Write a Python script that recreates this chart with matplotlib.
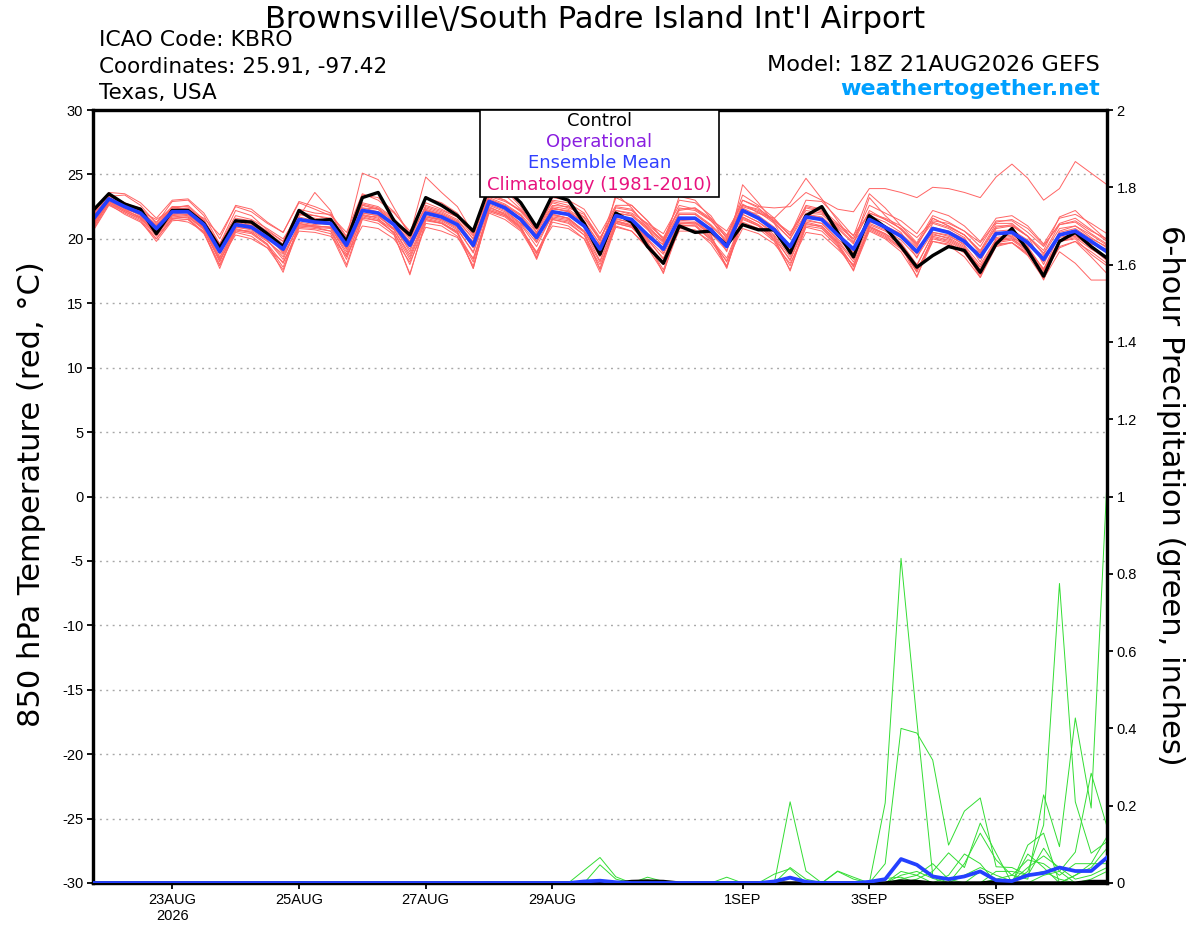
import matplotlib
matplotlib.use("Agg")
import matplotlib.pyplot as plt
import numpy as np
import pandas as pd
from matplotlib.patches import Rectangle

plt.rcParams["font.family"] = ["Liberation Sans", "DejaVu Sans"]
plt.rcParams["axes.unicode_minus"] = False
WIDE = ["DejaVu Sans"]

# 6-hourly forecast steps, 18Z 21AUG2026 run
times = pd.date_range("2026-08-21 18:00", periods=65, freq="6h")

tick_dates = pd.to_datetime(["2026-08-23", "2026-08-25", "2026-08-27", "2026-08-29",
                             "2026-09-01", "2026-09-03", "2026-09-05"])
tick_labels = ["23AUG\n2026", "25AUG", "27AUG", "29AUG", "1SEP", "3SEP", "5SEP"]

# 850 hPa temperature (C)
control_t = [22.2, 23.5, 22.7, 22.3, 20.4, 22.2, 22.2, 21.2, 19.3, 21.4, 21.3, 20.4, 19.4,
             22.2, 21.4, 21.5, 19.8, 23.2, 23.6, 21.4, 20.3, 23.2, 22.6, 21.8, 20.6, 24.0,
             24.0, 22.8, 20.9, 23.4, 23.0, 21.2, 18.8, 22.0, 21.3, 19.4, 18.1, 21.0, 20.5,
             20.6, 19.5, 21.1, 20.7, 20.7, 18.9, 21.8, 22.5, 20.5, 18.6, 21.8, 20.9, 19.4,
             17.8, 18.7, 19.4, 19.1, 17.4, 19.6, 20.8, 19.1, 17.1, 19.8, 20.5, 19.4, 18.5]
mean_t = [21.5, 23.1, 22.5, 22.0, 20.8, 22.1, 22.1, 21.1, 19.0, 21.1, 20.9, 20.1, 19.2,
          21.5, 21.3, 21.2, 19.5, 22.2, 22.0, 21.1, 19.5, 22.0, 21.7, 21.1, 19.5, 22.9,
          22.4, 21.5, 20.1, 22.1, 21.9, 21.0, 19.2, 21.8, 21.5, 20.3, 19.2, 21.6, 21.6,
          20.7, 19.4, 22.2, 21.6, 20.7, 19.4, 21.7, 21.5, 20.3, 19.2, 21.5, 20.9, 20.2,
          19.0, 20.8, 20.5, 19.8, 18.6, 20.4, 20.5, 19.7, 18.4, 20.3, 20.6, 19.8, 19.0]

member_t_01 = [21.0, 23.3, 23.4, 22.6, 21.2, 22.9, 23.0, 21.8, 19.6, 22.2, 21.8, 20.7, 19.8,
               22.3, 22.0, 21.9, 20.1, 25.1, 24.6, 22.4, 20.3, 24.8, 23.6, 22.5, 20.4, 23.8,
               23.4, 22.3, 20.8, 22.9, 22.6, 21.6, 19.9, 22.5, 22.3, 21.0, 19.8, 22.4, 22.2,
               21.4, 20.1, 23.0, 22.4, 21.3, 20.0, 22.4, 22.1, 20.9, 19.7, 22.2, 21.5, 20.8,
               19.5, 21.6, 21.0, 20.3, 19.1, 21.2, 21.2, 20.2, 18.9, 21.1, 21.3, 20.4, 19.6]
member_t_02 = [20.6, 22.6, 22.0, 21.4, 19.8, 21.4, 21.5, 20.4, 17.9, 20.5, 20.2, 19.3, 17.6,
               20.8, 20.7, 20.4, 17.8, 21.5, 21.2, 20.3, 17.3, 21.2, 21.0, 20.2, 17.9, 22.0,
               21.5, 20.6, 18.6, 21.3, 21.0, 20.0, 17.4, 21.0, 20.6, 19.3, 17.4, 20.8, 20.7,
               19.6, 17.8, 21.3, 20.8, 19.8, 17.6, 20.9, 20.6, 19.4, 17.6, 20.6, 20.0, 19.0,
               17.1, 19.8, 19.5, 18.6, 17.0, 19.4, 19.7, 18.7, 16.9, 19.0, 18.1, 16.8, 16.8]
member_t_03 = [21.8, 23.4, 22.8, 22.3, 21.0, 22.4, 22.6, 21.5, 19.4, 21.4, 21.2, 20.5, 19.6,
               21.9, 21.8, 21.5, 19.9, 22.8, 22.5, 21.6, 20.0, 22.6, 22.2, 21.7, 20.2, 23.5,
               23.0, 22.1, 20.7, 22.6, 22.5, 21.7, 20.0, 22.4, 22.2, 21.1, 20.1, 22.3, 22.4,
               21.6, 20.3, 23.0, 22.5, 22.4, 22.5, 23.6, 23.0, 22.3, 22.1, 23.9, 23.9, 23.6,
               23.2, 24.0, 23.9, 23.6, 23.2, 24.8, 25.8, 24.7, 23.0, 23.9, 26.0, 25.1, 24.2]
member_t_04 = [21.3, 23.0, 22.6, 22.2, 20.6, 22.3, 22.4, 21.3, 18.8, 21.0, 21.1, 20.3, 18.9,
               21.7, 23.6, 22.2, 19.2, 22.6, 22.3, 21.0, 19.0, 22.3, 21.9, 21.3, 19.3, 23.1,
               22.6, 21.8, 19.8, 22.4, 22.1, 21.3, 18.7, 23.5, 22.4, 20.8, 18.9, 21.9, 21.9,
               21.0, 19.0, 24.2, 22.8, 21.2, 19.1, 21.9, 21.7, 20.6, 18.9, 21.8, 21.3, 20.5,
               18.5, 21.2, 20.8, 20.1, 18.2, 20.8, 21.0, 20.2, 18.0, 20.6, 21.0, 20.3, 19.5]
member_t_05 = [20.9, 22.8, 22.2, 21.7, 20.3, 21.8, 21.6, 20.5, 17.7, 20.8, 20.5, 19.6, 17.4,
               21.2, 20.9, 20.8, 18.4, 21.8, 21.5, 20.7, 18.6, 21.6, 21.3, 20.5, 17.7, 22.5,
               21.9, 21.0, 18.4, 21.6, 21.4, 20.5, 17.7, 21.3, 21.0, 19.8, 17.3, 21.2, 21.3,
               20.2, 17.7, 21.7, 21.1, 20.1, 17.5, 21.2, 20.9, 19.6, 17.5, 21.0, 20.4, 19.5,
               17.0, 20.2, 19.9, 19.2, 17.0, 19.8, 20.0, 19.2, 16.8, 19.9, 20.3, 19.3, 18.3]
member_t_06 = [21.6, 23.2, 22.3, 21.9, 20.9, 22.0, 21.9, 20.9, 19.3, 21.5, 21.0, 20.1, 19.5,
               21.3, 21.1, 21.3, 19.8, 22.0, 21.8, 20.8, 19.8, 21.8, 21.5, 20.9, 19.8, 22.7,
               22.2, 21.2, 20.4, 21.9, 21.6, 20.6, 19.5, 21.6, 21.2, 20.1, 19.6, 21.3, 21.3,
               20.5, 19.8, 22.0, 22.0, 21.6, 22.8, 24.7, 23.1, 21.4, 19.8, 21.3, 21.0, 20.4,
               19.3, 20.5, 20.2, 19.6, 18.9, 20.1, 20.3, 19.5, 18.7, 20.1, 20.4, 19.6, 19.2]
member_t_07 = [22.0, 23.0, 22.6, 22.1, 21.5, 22.3, 22.2, 21.6, 20.3, 22.5, 22.1, 21.2, 20.5,
               22.8, 22.3, 21.8, 20.5, 23.5, 23.0, 22.0, 20.6, 22.8, 22.3, 21.7, 20.5, 23.3,
               22.9, 22.2, 21.0, 22.8, 22.4, 21.9, 20.1, 22.2, 22.0, 21.2, 20.4, 22.6, 22.3,
               21.5, 20.6, 22.7, 22.0, 21.4, 20.5, 22.2, 22.0, 21.1, 20.3, 22.0, 21.6, 21.0,
               20.1, 21.4, 21.2, 20.6, 19.7, 21.3, 21.5, 20.8, 19.5, 21.1, 21.4, 20.6, 20.0]
member_t_08 = [21.2, 22.7, 21.9, 21.3, 20.0, 21.5, 21.3, 20.6, 18.4, 20.3, 20.0, 19.3, 18.2,
               20.6, 20.5, 20.2, 18.7, 21.0, 20.8, 20.0, 18.2, 20.9, 20.6, 20.1, 18.5, 22.1,
               21.7, 20.7, 19.0, 21.0, 20.8, 20.0, 18.0, 20.9, 20.6, 19.4, 18.0, 20.6, 20.6,
               19.8, 18.3, 20.8, 20.4, 19.6, 18.1, 20.5, 20.3, 19.2, 18.0, 20.7, 20.1, 19.2,
               17.6, 19.8, 19.6, 19.0, 17.8, 19.6, 19.7, 18.8, 17.4, 19.3, 19.8, 19.0, 18.1]
member_t_09 = [21.4, 23.1, 22.4, 22.0, 21.0, 22.2, 22.0, 21.0, 19.0, 21.3, 21.0, 20.2, 19.0,
               21.6, 21.2, 21.1, 19.3, 22.4, 22.1, 21.2, 19.6, 22.2, 21.8, 21.0, 19.3, 22.8,
               22.5, 21.6, 20.0, 22.3, 22.2, 21.2, 19.3, 22.0, 21.8, 20.7, 19.5, 23.3, 23.0,
               21.6, 19.6, 22.4, 21.8, 20.9, 19.3, 21.9, 21.6, 20.5, 19.1, 21.6, 21.0, 20.3,
               18.8, 20.9, 20.6, 20.0, 18.5, 20.6, 20.7, 19.9, 18.2, 20.5, 20.8, 20.0, 19.4]
member_t_10 = [20.8, 22.9, 22.4, 21.8, 20.5, 21.9, 21.8, 20.8, 18.2, 20.9, 20.7, 19.9, 18.6,
               21.1, 21.0, 20.9, 19.0, 21.9, 21.6, 20.4, 17.2, 21.4, 21.2, 20.6, 17.7, 22.3,
               21.9, 20.9, 18.5, 21.7, 21.5, 20.6, 18.6, 21.5, 21.3, 20.0, 18.4, 21.4, 21.5,
               20.3, 17.8, 21.9, 21.3, 20.3, 18.6, 21.4, 21.2, 19.9, 18.4, 21.1, 20.6, 19.7,
               18.0, 20.3, 20.1, 19.4, 17.6, 19.9, 20.1, 19.4, 17.6, 20.4, 20.5, 19.7, 18.9]
member_t_11 = [21.7, 23.2, 22.7, 22.4, 21.3, 22.5, 22.3, 21.4, 19.6, 21.8, 21.5, 20.8, 20.0,
               21.9, 21.6, 21.4, 19.9, 22.7, 22.4, 21.5, 20.2, 22.4, 22.0, 21.4, 20.0, 23.2,
               22.7, 21.9, 20.5, 22.5, 22.3, 21.4, 19.6, 22.2, 21.9, 20.9, 19.8, 22.0, 22.0,
               21.1, 19.9, 22.5, 22.1, 21.2, 20.0, 22.0, 21.9, 20.8, 19.6, 23.2, 21.8, 20.7,
               19.4, 21.6, 21.0, 20.3, 19.0, 21.0, 21.0, 20.2, 19.1, 21.7, 22.2, 21.0, 19.9]
member_t_12 = [21.1, 22.9, 22.2, 21.7, 20.5, 21.8, 21.9, 20.9, 18.6, 20.7, 20.6, 19.8, 18.8,
               21.0, 21.0, 20.9, 19.2, 21.8, 21.7, 20.8, 19.2, 21.7, 21.4, 20.7, 19.0, 22.6,
               22.1, 21.2, 19.7, 21.8, 21.6, 20.6, 18.9, 21.4, 21.1, 20.0, 18.8, 21.2, 21.2,
               20.4, 19.1, 21.9, 21.3, 20.5, 19.0, 21.5, 21.2, 20.0, 18.8, 21.2, 20.7, 19.9,
               18.6, 20.5, 20.3, 19.5, 18.0, 20.0, 20.2, 19.3, 17.6, 19.8, 20.0, 18.8, 17.9]
member_t_13 = [21.9, 23.6, 23.5, 22.8, 21.6, 23.0, 23.1, 22.0, 20.0, 22.6, 22.3, 21.3, 20.5,
               22.9, 22.5, 22.0, 20.2, 23.4, 23.2, 22.1, 20.4, 23.2, 22.8, 22.0, 20.3, 24.5,
               23.8, 22.5, 20.5, 23.0, 22.8, 22.0, 19.8, 23.2, 22.6, 21.4, 19.9, 23.0, 22.8,
               21.8, 20.0, 23.4, 22.6, 21.6, 20.2, 22.6, 22.3, 21.2, 20.0, 22.6, 22.0, 21.4,
               20.4, 22.2, 21.8, 21.0, 19.8, 21.6, 21.8, 21.0, 19.6, 21.6, 21.9, 21.2, 20.4]
member_t_14 = [21.0, 22.9, 22.3, 21.6, 20.4, 21.7, 21.7, 20.8, 18.5, 20.9, 20.8, 19.9, 18.4,
               21.2, 21.0, 20.9, 18.8, 22.0, 21.8, 20.7, 18.8, 21.7, 21.5, 20.8, 18.9, 22.4,
               22.0, 21.1, 19.4, 21.9, 21.6, 20.6, 18.3, 21.4, 21.0, 19.9, 18.5, 21.1, 21.0,
               20.0, 18.5, 21.6, 21.0, 20.0, 18.4, 21.3, 21.0, 19.7, 17.8, 20.9, 20.3, 19.3,
               17.4, 20.0, 19.7, 18.9, 17.2, 19.5, 19.7, 18.9, 17.2, 19.4, 19.8, 18.6, 17.3]
member_t_15 = [21.4, 23.0, 22.6, 22.1, 20.9, 22.4, 22.3, 21.2, 19.1, 21.2, 21.0, 20.3, 19.3,
               21.7, 21.4, 21.2, 19.6, 22.4, 22.3, 21.3, 19.8, 22.2, 21.9, 21.3, 19.7, 23.4,
               23.0, 22.2, 20.8, 23.2, 23.0, 22.3, 20.4, 22.6, 22.6, 21.4, 20.0, 22.2, 22.4,
               21.4, 20.2, 22.6, 22.3, 21.5, 20.3, 22.5, 22.2, 21.0, 20.0, 22.0, 21.5, 20.8,
               19.6, 21.3, 20.9, 20.3, 18.9, 20.9, 21.1, 20.2, 18.8, 20.8, 21.0, 20.1, 19.3]
member_t_16 = [21.2, 22.8, 22.1, 21.5, 20.0, 21.6, 21.5, 20.5, 18.0, 20.6, 20.4, 19.5, 17.8,
               21.0, 20.9, 20.6, 18.0, 21.6, 21.4, 20.5, 18.0, 21.5, 21.2, 20.4, 18.2, 22.2,
               21.8, 20.8, 18.8, 21.5, 21.3, 20.3, 17.6, 21.2, 20.9, 19.6, 17.6, 21.0, 21.0,
               19.9, 17.9, 21.5, 21.0, 19.9, 17.9, 21.0, 20.8, 19.5, 17.9, 20.8, 20.2, 19.3,
               17.5, 20.1, 19.8, 19.1, 17.4, 19.7, 19.9, 19.0, 17.5, 19.8, 20.1, 19.2, 18.5]
member_t_17 = [21.6, 23.3, 22.8, 22.2, 21.1, 22.5, 22.5, 21.4, 19.5, 21.6, 21.4, 20.6, 19.8,
               22.1, 21.8, 21.6, 20.0, 22.6, 22.3, 21.4, 20.0, 22.5, 22.1, 21.5, 20.0, 23.0,
               22.6, 21.8, 20.3, 22.4, 22.1, 21.3, 19.6, 22.0, 21.8, 20.8, 19.7, 21.9, 21.9,
               21.0, 19.8, 22.6, 22.2, 21.4, 20.3, 23.0, 22.9, 21.6, 20.2, 23.5, 22.4, 21.0,
               19.7, 21.8, 21.3, 20.6, 19.4, 21.4, 21.4, 20.5, 19.4, 21.2, 21.6, 20.7, 19.8]
member_t_18 = [20.7, 22.7, 22.1, 21.6, 20.2, 21.6, 21.7, 20.7, 18.3, 20.7, 20.5, 19.6, 18.1,
               20.9, 20.8, 20.6, 18.6, 21.7, 21.4, 20.5, 18.4, 21.5, 21.2, 20.5, 18.4, 22.2,
               21.8, 20.9, 18.9, 21.5, 21.2, 20.3, 18.2, 21.2, 20.9, 19.7, 18.1, 21.0, 21.1,
               20.1, 18.2, 21.7, 21.1, 20.2, 18.3, 21.1, 21.0, 19.8, 18.2, 20.9, 20.4, 19.6,
               17.9, 20.4, 20.0, 19.3, 17.8, 19.9, 20.0, 19.1, 17.7, 19.9, 20.2, 19.4, 18.6]
members_t = [member_t_01, member_t_02, member_t_03, member_t_04, member_t_05, member_t_06,
             member_t_07, member_t_08, member_t_09, member_t_10, member_t_11, member_t_12,
             member_t_13, member_t_14, member_t_15, member_t_16, member_t_17, member_t_18]

# 6-hour precipitation (inches), only non-zero steps listed
control_p = {34: 0.004, 35: 0.005, 36: 0.004, 51: 0.005, 52: 0.004, 57: 0.003, 63: 0.004, 64: 0.004}
mean_p = {31: 0.004, 32: 0.006, 33: 0.002, 43: 0.004, 44: 0.014, 45: 0.003, 49: 0.003,
          50: 0.01, 51: 0.062, 52: 0.047, 53: 0.017, 54: 0.01, 55: 0.017, 56: 0.03, 57: 0.007,
          58: 0.005, 59: 0.02, 60: 0.026, 61: 0.04, 62: 0.031, 63: 0.031, 64: 0.066}
member_p_01 = {44: 0.21, 45: 0.031, 50: 0.207, 51: 0.84, 52: 0.42, 53: 0.02,
               56: 0.03, 57: 0.01, 62: 0.02, 63: 0.05, 64: 0.12}
member_p_02 = {31: 0.033, 32: 0.066, 33: 0.016, 50: 0.05, 51: 0.40, 52: 0.388, 53: 0.318,
               54: 0.098, 55: 0.186, 56: 0.22, 57: 0.042, 58: 0.04, 59: 0.02, 60: 0.03, 61: 0.01}
member_p_03 = {32: 0.047, 33: 0.01, 43: 0.023, 44: 0.037, 47: 0.031, 48: 0.015,
               50: 0.012, 51: 0.015, 54: 0.02, 55: 0.075, 56: 0.05, 59: 0.075, 60: 0.04}
member_p_04 = {59: 0.03, 60: 0.15, 61: 0.775, 62: 0.21, 63: 0.077, 64: 0.107}
member_p_05 = {57: 0.01, 58: 0.02, 59: 0.01, 60: 0.228, 61: 0.094, 62: 0.427, 63: 0.194,
               64: 1.04}
member_p_06 = {60: 0.02, 61: 0.03, 62: 0.08, 63: 0.284, 64: 0.146}
member_p_07 = {52: 0.01, 53: 0.03, 54: 0.078, 55: 0.04, 56: 0.155, 57: 0.077, 59: 0.098,
               60: 0.129, 62: 0.02, 63: 0.04, 64: 0.09}
member_p_08 = {51: 0.01, 52: 0.02, 55: 0.05, 56: 0.129, 57: 0.06, 58: 0.02, 59: 0.06,
               60: 0.05, 61: 0.02, 62: 0.05, 63: 0.05, 64: 0.05}
member_p_09 = {13: 0.004, 25: 0.003, 35: 0.015, 36: 0.004, 40: 0.015, 44: 0.04, 45: 0.01,
               47: 0.03, 48: 0.01, 51: 0.03, 52: 0.02, 53: 0.05, 54: 0.01, 57: 0.03, 58: 0.03,
               59: 0.02, 60: 0.09, 61: 0.03, 63: 0.01, 64: 0.03}
member_p_10 = {34: 0.005, 35: 0.008, 44: 0.015, 51: 0.02, 52: 0.03, 53: 0.012, 55: 0.02,
               56: 0.04, 57: 0.02, 58: 0.005, 59: 0.04, 60: 0.07, 61: 0.04, 62: 0.01,
               63: 0.02, 64: 0.04}
members_p = [member_p_01, member_p_02, member_p_03, member_p_04, member_p_05,
             member_p_06, member_p_07, member_p_08, member_p_09, member_p_10]


def full_series(steps):
    values = np.zeros(len(times))
    for step, amount in steps.items():
        values[step] = amount
    return values


fig = plt.figure(figsize=(12, 9.27), dpi=100)
W, H = 1200, 927
ax = fig.add_axes([93 / W, 1 - 883 / H, (1107 - 93) / W, (883 - 110) / H])
ax2 = ax.twinx()

for member in members_t:
    ax.plot(times, member, color="#ff6464", lw=0.7, zorder=2)
ax.plot(times, control_t, color="black", lw=2.4, zorder=4)
ax.plot(times, mean_t, color="#2440ff", lw=2.7, zorder=5)

for member in members_p:
    ax2.plot(times, full_series(member), color="#33dd33", lw=0.7, zorder=2)
ax2.plot(times, full_series(control_p), color="black", lw=2.4, zorder=4)
ax2.plot(times, full_series(mean_p), color="#2440ff", lw=2.7, zorder=5)

ax.set_xlim(times[0], times[-1])
ax.set_ylim(-30, 30)
ax2.set_ylim(0, 2)
ax.set_yticks(np.arange(-30, 31, 5))
ax.set_yticklabels([f"{v}" for v in range(-30, 31, 5)])
ax2.set_yticks(np.arange(0, 2.01, 0.2))
ax2.set_yticklabels([f"{v:g}" for v in np.round(np.arange(0, 2.01, 0.2), 1)])
ax.set_xticks(tick_dates)
ax.set_xticklabels(tick_labels)

ax.set_axisbelow(True)
ax.yaxis.grid(True, color="#a8a8a8", lw=1.0, linestyle=(0, (1.4, 3.2)))

for a in (ax, ax2):
    for side in a.spines.values():
        side.set_linewidth(2.3)
    a.tick_params(direction="out", length=4, width=1.3, labelsize=10.5, pad=3)

# legend box
ax2.add_patch(Rectangle((0.3817, 0.8874), 0.2357, 0.1126, transform=ax2.transAxes,
                        facecolor="white", edgecolor="black", lw=1.2, zorder=20, clip_on=False))
legend_rows = [("Control", "black", 0.9855), ("Operational", "#8a1ee0", 0.9586),
               ("Ensemble Mean", "#3040ff", 0.9314), ("Climatology (1981-2010)", "#e8127e", 0.9030)]
for label, colour, ypos in legend_rows:
    ax2.text(0.4995, ypos, label, color=colour, fontsize=13, family=WIDE, ha="center",
             va="center", transform=ax2.transAxes, zorder=21)

# header texts
fig.text(595 / W, 1 - 28 / H, "Brownsville\\/South Padre Island Int'l Airport",
         fontsize=22, family=WIDE, ha="center", va="baseline")
fig.text(99 / W, 1 - 46 / H, "ICAO Code: KBRO", fontsize=15.8, family=WIDE, va="baseline")
fig.text(99 / W, 1 - 73 / H, "Coordinates: 25.91, -97.42", fontsize=15.5, family=WIDE,
         va="baseline")
fig.text(99 / W, 1 - 99 / H, "Texas, USA", fontsize=15.5, family=WIDE, va="baseline")
fig.text(1100 / W, 1 - 71 / H, "Model: 18Z 21AUG2026 GEFS", fontsize=16.1, family=WIDE,
         ha="right", va="baseline")
fig.text(1100 / W, 1 - 95 / H, "weathertogether.net", fontsize=16, family=WIDE,
         ha="right", va="baseline", color="#00a0ff", fontweight="bold")

fig.text(32 / W, 1 - 494 / H, "850 hPa Temperature (red, °C)", fontsize=22, family=WIDE,
         rotation=90, ha="center", va="center")
fig.text(1170 / W, 1 - 495 / H, "6-hour Precipitation (green, inches)", fontsize=22,
         family=WIDE, rotation=270, ha="center", va="center")

fig.savefig("out.png", dpi=100)
